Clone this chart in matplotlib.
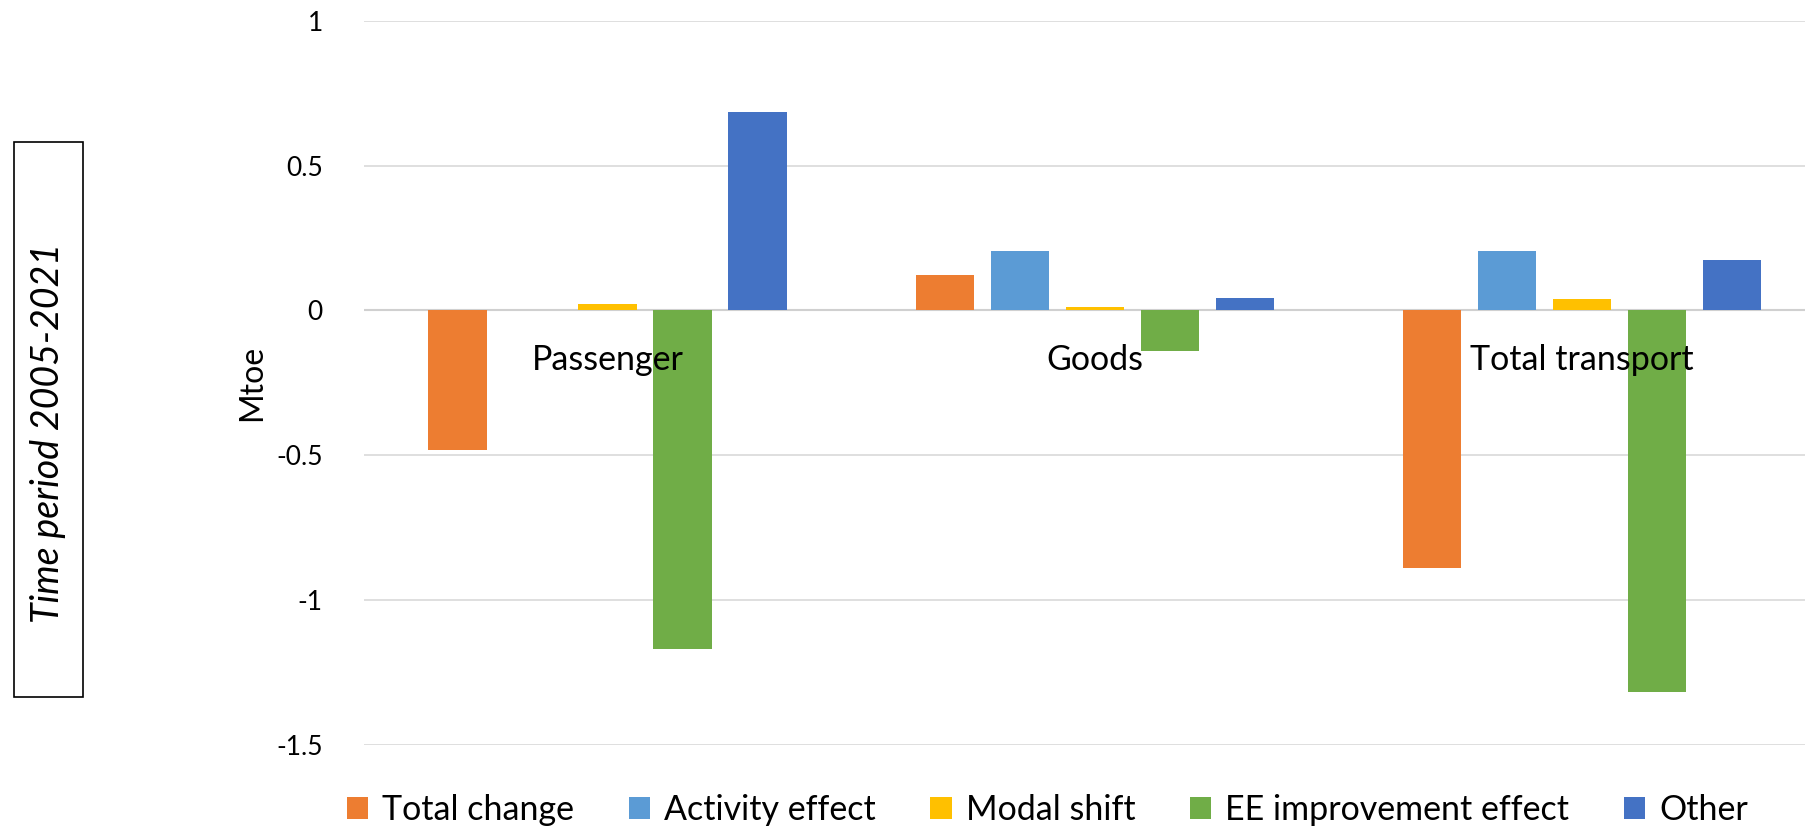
import matplotlib
matplotlib.use('Agg')
import matplotlib.pyplot as plt
import numpy as np
from matplotlib.patches import Rectangle

plt.rcParams['font.family'] = ['Lato', 'DejaVu Sans']

categories = ['Passenger', 'Goods', 'Total transport']
series = ['Total change', 'Activity effect', 'Modal shift', 'EE improvement effect', 'Other']
total_change = [-0.48, 0.123, -0.89]
activity_effect = [0.0, 0.205, 0.205]
modal_shift = [0.022, 0.012, 0.04]
ee_improvement = [-1.17, -0.14, -1.315]
other = [0.684, 0.044, 0.173]
colors = ['#ED7D31', '#5B9BD5', '#FFC000', '#70AD47', '#4472C4']

values = [total_change, activity_effect, modal_shift, ee_improvement, other]

fig = plt.figure(figsize=(18.06, 8.27), dpi=100)
# plot area runs slightly past the right edge, as in the source image
ax = fig.add_axes([0.2018, 0.099, 0.809, 0.876])

x = np.arange(len(categories))
step = 0.154
width = 0.121
for k, (vals, name, c) in enumerate(zip(values, series, colors)):
    ax.bar(x + (k - 2) * step, vals, width, color=c, label=name, zorder=3)

ax.set_xlim(-0.5, 2.5)
ax.set_ylim(-1.5, 1)
ax.set_yticks([-1.5, -1, -0.5, 0, 0.5, 1])
ax.set_yticklabels(['-1.5', '-1', '-0.5', '0', '0.5', '1'])
ax.grid(axis='y', color='#d9d9d9', linewidth=1.2, zorder=0)
ax.axhline(0, color='#d0d0d0', linewidth=1.5, zorder=2)
ax.set_xticks([])
for s in ax.spines.values():
    s.set_visible(False)
ax.tick_params(axis='y', length=0, labelsize=19, pad=30)
ax.set_ylabel('Mtoe', fontsize=23)
ax.yaxis.set_label_coords(-0.0667, 0.5)

# category labels sit just below the zero line
for i, cat in enumerate(categories):
    ax.text(i, -0.17, cat, ha='center', va='center', fontsize=24.5, zorder=4)

leg = fig.legend(loc='center', bbox_to_anchor=(0.58, 0.021), ncol=5, frameon=False,
                 fontsize=24.5, handlelength=0.62, handleheight=0.62, handletextpad=0.42,
                 columnspacing=1.6)

# boxed period label on the left
fig.patches.append(Rectangle((0.0078, 0.157), 0.038, 0.671, transform=fig.transFigure,
                             fill=False, edgecolor='black', linewidth=1.2))
fig.text(0.0265, 0.476, 'Time period 2005-2021', rotation=90, style='italic',
         fontsize=27, ha='center', va='center')

fig.savefig('out.png', dpi=100)
